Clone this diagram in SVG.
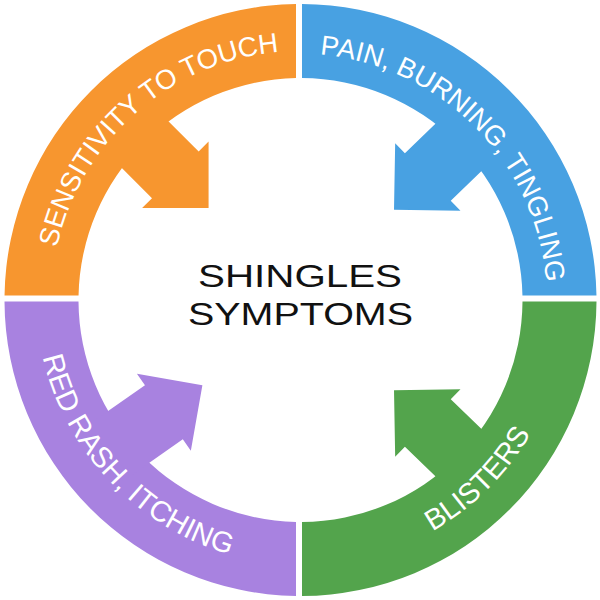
<svg xmlns="http://www.w3.org/2000/svg" width="600" height="600" viewBox="0 0 600 600">
  <style>
    .lbl { font-family: "Liberation Sans", Arial, sans-serif; fill: #ffffff; text-anchor: middle; }
    .top { font-size: 27.5px; }
    .bot { font-size: 29px; }
    .title { font-family: "Liberation Sans", Arial, sans-serif; font-size: 32px; fill: #111111; }
    .orange { fill: #F7962F; }
    .blue { fill: #48A1E2; }
    .green { fill: #53A44C; }
    .purple { fill: #A882E0; }
  </style>
  <defs>
    <polygon id="arrow" points="130,0 177,-47 177,-33 250,-33 250,33 177,33 177,47"/>
    <path id="pOrange" d="M 113.7,464.7 A 249 249 0 0 1 487.3,135.3"/>
    <path id="pBlue" d="M 125.1,123.3 A 249 249 0 0 1 475.9,476.7"/>
    <path id="pGreen" d="M 109.5,489.4 A 269 269 0 0 0 491.5,110.6"/>
    <path id="pPurple" d="M 115.5,104.8 A 269 269 0 0 0 485.5,495.2"/>
  </defs>
  <rect width="600" height="600" fill="#ffffff"/>

  <g id="node-sensitivity" class="orange">
    <path d="M 4.53,295.5 A 296 296 0 0 1 296,4.03 L 296,78.05 A 222 222 0 0 0 78.55,295.5 Z"/>
    <use href="#arrow" transform="translate(300.5,300) rotate(225)"/>
    <text class="lbl top"><textPath href="#pOrange" startOffset="50%">SENSITIVITY TO TOUCH</textPath></text>
  </g>

  <g id="node-pain" class="blue">
    <path d="M 302,4 A 296 296 0 0 1 596.47,295.5 L 522.45,295.5 A 222 222 0 0 0 302,78 Z"/>
    <use href="#arrow" transform="translate(300.5,300) rotate(-44)"/>
    <text class="lbl top"><textPath href="#pBlue" startOffset="50%">PAIN, BURNING, TINGLING</textPath></text>
  </g>

  <g id="node-blisters" class="green">
    <path d="M 596.5,301.5 A 296 296 0 0 1 302,596 L 302,522 A 222 222 0 0 0 522.5,301.5 Z"/>
    <use href="#arrow" transform="translate(300.5,300) rotate(44)"/>
    <text class="lbl bot"><textPath href="#pGreen" startOffset="50%">BLISTERS</textPath></text>
  </g>

  <g id="node-rash" class="purple">
    <path d="M 296,595.97 A 296 296 0 0 1 4.5,301.5 L 78.5,301.5 A 222 222 0 0 0 296,521.95 Z"/>
    <use href="#arrow" transform="translate(300.5,300) rotate(139) translate(130,0) rotate(6) translate(-130,0)"/>
    <text class="lbl bot"><textPath href="#pPurple" startOffset="50%">RED RASH, ITCHING</textPath></text>
  </g>

  <g id="node-center">
    <text class="title" x="198" y="287" textLength="204" lengthAdjust="spacingAndGlyphs">SHINGLES</text>
    <text class="title" x="188" y="325" textLength="225" lengthAdjust="spacingAndGlyphs">SYMPTOMS</text>
  </g>

  <g id="connectors"></g>
</svg>
